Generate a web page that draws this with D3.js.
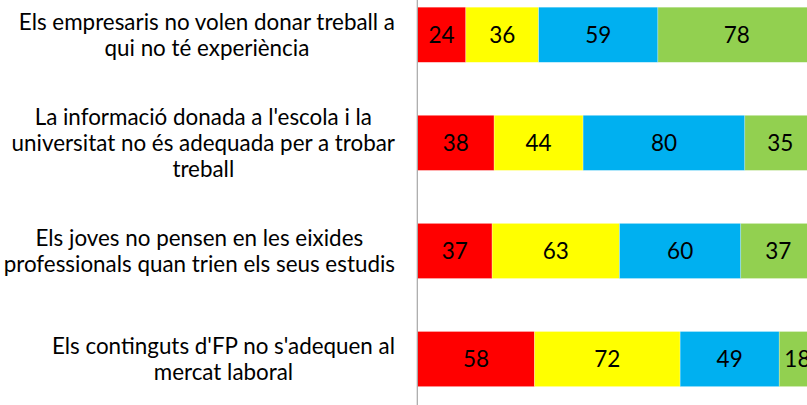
<!DOCTYPE html>
<html>
<head>
<meta charset="utf-8">
<script src="https://cdn.jsdelivr.net/npm/d3@7"></script>
<style>
  html, body { margin: 0; padding: 0; background: #fff; }
  svg { display: block; }
  text { font-family: Lato, "Open Sans", sans-serif; fill: #000; }
</style>
</head>
<body>
<svg id="chart" width="807" height="405"></svg>
<script>
// Statements, top to bottom; each is split into its wrapped lines
const categories = [
  ["Els empresaris no volen donar treball a", "qui no té experiència"],
  ["La informació donada a l'escola i la", "universitat no és adequada per a trobar", "treball"],
  ["Els joves no pensen en les eixides", "professionals quan trien els seus estudis"],
  ["Els continguts d'FP no s'adequen al", "mercat laboral"]
];

// Answer counts per statement, one array per series (left to right)
const serie1 = [24, 38, 37, 58];
const serie2 = [36, 44, 63, 72];
const serie3 = [59, 80, 60, 49];
const serie4 = [78, 35, 37, 18];

const seriesColors = ["#FF0000", "#FFFF00", "#00B0F0", "#92D050"];

const width = 807, height = 405;
const svg = d3.select("#chart");

const keys = ["s1", "s2", "s3", "s4"];
const rows = categories.map((c, i) => ({
  id: i,
  lines: c,
  s1: serie1[i], s2: serie2[i], s3: serie3[i], s4: serie4[i]
}));

const stacked = d3.stack().keys(keys)(rows);
const total = d3.max(rows, r => keys.reduce((a, k) => a + r[k], 0));

const x = d3.scaleLinear().domain([0, total]).range([417.3, 815.6]);
const y = d3.scaleBand()
  .domain(rows.map(r => r.id))
  .range([-19.3, 413.1])
  .paddingInner(0.49)
  .paddingOuter(0.245);

const color = d3.scaleOrdinal().domain(keys).range(seriesColors);

// stacked segments
const layers = svg.append("g").selectAll("g")
  .data(stacked)
  .join("g")
  .attr("fill", d => color(d.key));

layers.selectAll("rect")
  .data(d => d.map(p => ({ p, key: d.key })))
  .join("rect")
  .attr("x", d => x(d.p[0]))
  .attr("y", d => y(d.p.data.id))
  .attr("width", d => x(d.p[1]) - x(d.p[0]))
  .attr("height", y.bandwidth())
  .attr("stroke", "#ffffff")
  .attr("stroke-opacity", 0.45)
  .attr("stroke-width", 0.6);

// value labels inside each segment
layers.selectAll("text")
  .data(d => d.map(p => ({ p, key: d.key })))
  .join("text")
  .attr("x", d => (x(d.p[0]) + x(d.p[1])) / 2)
  .attr("y", d => y(d.p.data.id) + y.bandwidth() / 2)
  .attr("dy", "0.36em")
  .attr("text-anchor", "middle")
  .attr("font-size", 22.5)
  .text(d => d.p[1] - d.p[0]);

// category axis line
svg.append("line")
  .attr("x1", x(0)).attr("x2", x(0))
  .attr("y1", 0).attr("y2", height)
  .attr("stroke", "#A6A6A6")
  .attr("stroke-width", 1.2);

// category labels: block right-aligned to the axis, lines centred within the block
const labelRight = 395;
const lineGap = 26;
const labelG = svg.append("g").attr("font-size", 22.4);

rows.forEach(r => {
  const g = labelG.append("g");
  const texts = r.lines.map(l => g.append("text").attr("text-anchor", "middle").text(l));
  const maxW = d3.max(texts, t => t.node().getComputedTextLength());
  const cx = labelRight - maxW / 2;
  const cy = y(r.id) + y.bandwidth() / 2;
  const n = r.lines.length;
  texts.forEach((t, i) => {
    t.attr("x", cx)
     .attr("y", cy + (i - (n - 1) / 2) * lineGap)
     .attr("dy", "0.36em");
  });
});
</script>
</body>
</html>
